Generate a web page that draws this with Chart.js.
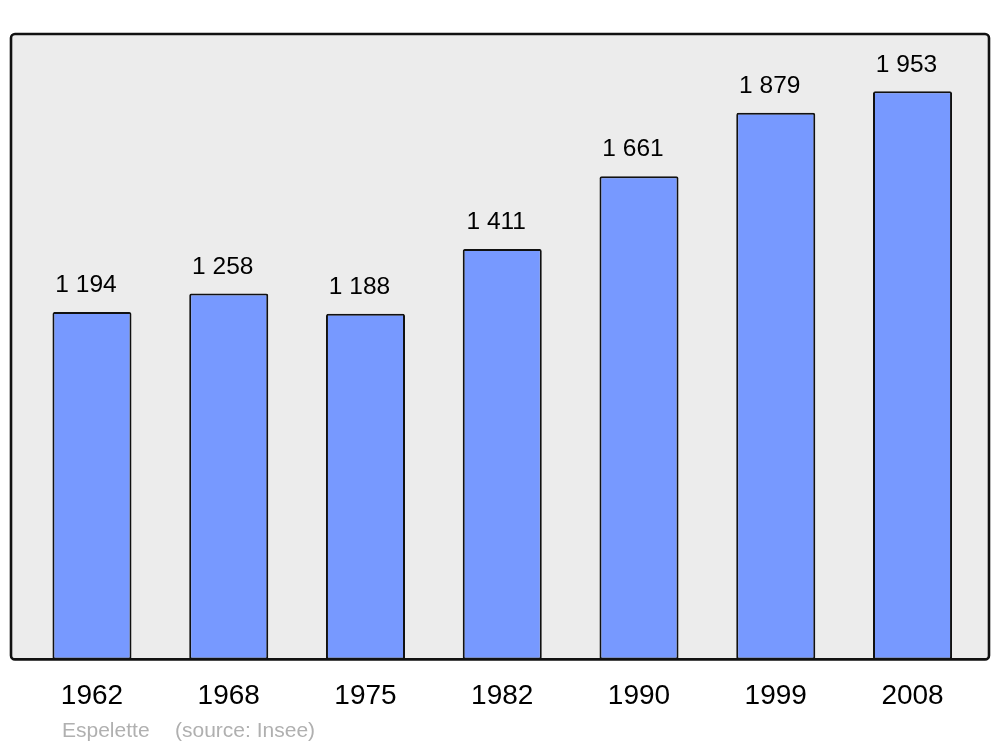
<!DOCTYPE html>
<html>
<head>
<meta charset="utf-8">
<script src="https://cdn.jsdelivr.net/npm/chart.js@4"></script>
<style>
  html, body { margin: 0; padding: 0; background: #ffffff; }
  #wrap { width: 1000px; height: 747px; position: relative; }
</style>
</head>
<body>
<div id="wrap"><canvas id="c" width="1000" height="747"></canvas></div>
<script>
const years = ['1962', '1968', '1975', '1982', '1990', '1999', '2008'];
const population = [1194, 1258, 1188, 1411, 1661, 1879, 1953];
const footerName = 'Espelette';
const footerSource = '(source: Insee)';

function fmt(v) {
  return String(v).replace(/\B(?=(\d{3})+(?!\d))/g, ' ');
}

const FONT = '"Liberation Sans", Arial, sans-serif';

const framePlugin = {
  id: 'frame',
  beforeDatasetsDraw(chart) {
    const { ctx, chartArea: a } = chart;
    ctx.save();
    ctx.beginPath();
    ctx.roundRect(a.left - 12.6, a.top, (a.right + 8.1) - (a.left - 12.6), a.bottom - a.top, 4);
    ctx.fillStyle = '#ececec';
    ctx.fill();
    ctx.restore();
  },
  afterDatasetsDraw(chart) {
    const { ctx, chartArea: a } = chart;
    ctx.save();
    ctx.beginPath();
    ctx.roundRect(a.left - 12.6, a.top, (a.right + 8.1) - (a.left - 12.6), a.bottom - a.top, 4);
    ctx.lineWidth = 2.6;
    ctx.strokeStyle = '#111111';
    ctx.stroke();
    // value labels
    const meta = chart.getDatasetMeta(0);
    ctx.fillStyle = '#000000';
    ctx.font = '24.5px ' + FONT;
    ctx.textAlign = 'center';
    ctx.textBaseline = 'middle';
    meta.data.forEach((bar, i) => {
      ctx.fillText(fmt(chart.data.datasets[0].data[i]), bar.x - 6, bar.y - 26.5);
    });
    // footer
    ctx.fillStyle = '#b0b0b0';
    ctx.font = '21px ' + FONT;
    ctx.textAlign = 'left';
    ctx.fillText(footerName, 62, 731);
    ctx.fillText(footerSource, 175, 731);
    ctx.restore();
  }
};

new Chart(document.getElementById('c'), {
  type: 'bar',
  data: {
    labels: years,
    datasets: [{
      data: population,
      backgroundColor: '#7799ff',
      borderColor: '#111111',
      borderWidth: 2,
      borderRadius: 2,
      borderSkipped: false,
      barPercentage: 0.578,
      categoryPercentage: 1.0
    }]
  },
  options: {
    responsive: false,
    animation: false,
    layout: { padding: { left: 23.6, right: 19.1, top: 34, bottom: 14 } },
    plugins: { legend: { display: false }, tooltip: { enabled: false } },
    scales: {
      x: {
        grid: { display: false, drawTicks: false },
        border: { display: false },
        ticks: { color: '#000000', font: { family: FONT, size: 28 }, padding: 20 }
      },
      y: {
        display: false,
        min: 0,
        max: 2150
      }
    }
  },
  plugins: [framePlugin]
});
</script>
</body>
</html>
